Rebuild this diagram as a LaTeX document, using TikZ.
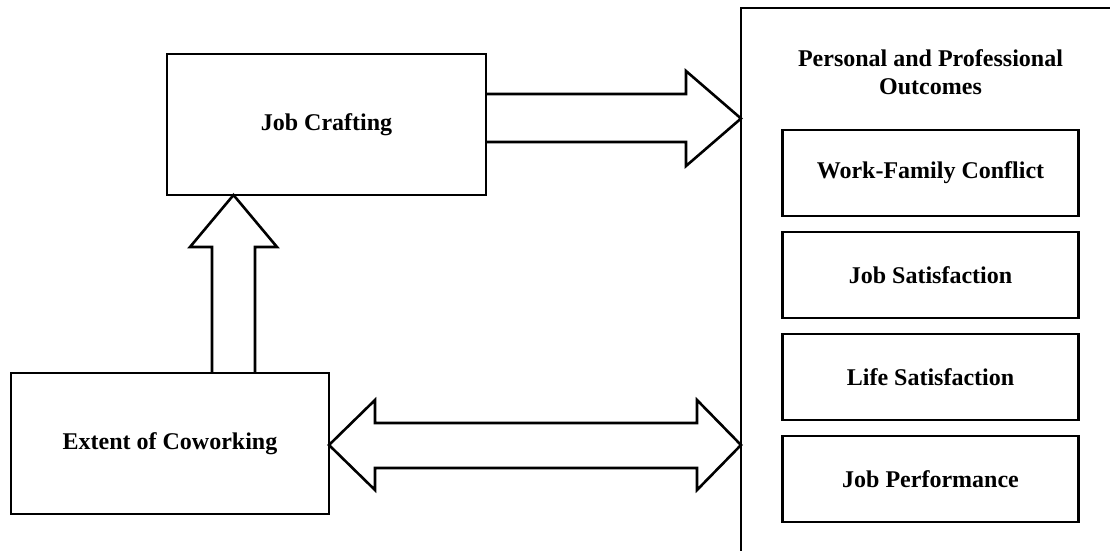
\documentclass[tikz,border=0pt]{standalone}
\usepackage{fontspec}
\setmainfont{Liberation Serif}
\usepackage{tikz}
\usetikzlibrary{positioning,calc}

\begin{document}
\begin{tikzpicture}[x=1pt,y=-1pt]
  \tikzstyle{rectblock}=[rectangle, draw, line width=2.6pt, inner sep=0pt, outer sep=0pt,
                         font=\bfseries\fontsize{24}{27.5}\selectfont, align=center]
  \tikzstyle{blockarrow}=[draw, line width=2.6pt, line join=miter]
  \useasboundingbox (0,0) rectangle (1110,550);
  \clip (0,0) rectangle (1110,550);
  \node[rectblock, minimum width=319, minimum height=141] (Job Crafting) at (326.5,124.5) {Job Crafting};
  \node[rectblock, minimum width=318, minimum height=141] (Extent of Coworking) at (170,443.5) {Extent of Coworking};
  \node[rectblock, anchor=north west, minimum width=420, minimum height=600] (Outcomes) at (741,8) {};
  \node[font=\bfseries\fontsize{24}{27.5}\selectfont, align=center] (Outcomes Title) at (930.5,72) {Personal and Professional\\
                                                                                                  Outcomes};
  \node[rectblock, anchor=north, minimum width=296, minimum height=86] (Work Family Conflict) at (930.5,130) {Work-Family Conflict};
  \node[rectblock, minimum width=296, minimum height=86, below=16pt of Work Family Conflict] (Job Satisfaction) {Job Satisfaction};
  \node[rectblock, minimum width=296, minimum height=86, below=16pt of Job Satisfaction] (Life Satisfaction) {Life Satisfaction};
  \node[rectblock, minimum width=296, minimum height=86, below=16pt of Life Satisfaction] (Job Performance) {Job Performance};
  \draw[blockarrow] (212,0 |- Extent of Coworking.north) -- (212,247) -- (190,247) -- (233.5,0 |- Job Crafting.south)
                    -- (277,247) -- (255,247) -- (255,0 |- Extent of Coworking.north);
  \draw[blockarrow] (Job Crafting.east |- 0,94) -- (686,94) -- (686,71) -- (Outcomes.west |- 0,118.5)
                    -- (686,166) -- (686,142) -- (Job Crafting.east |- 0,142);
  \draw[blockarrow] (Extent of Coworking.east |- 0,445) -- (375,400) -- (375,423) -- (697,423) -- (697,400)
                    -- (Outcomes.west |- 0,445) -- (697,490) -- (697,468) -- (375,468) -- (375,490) -- cycle;
\end{tikzpicture}
\end{document}
